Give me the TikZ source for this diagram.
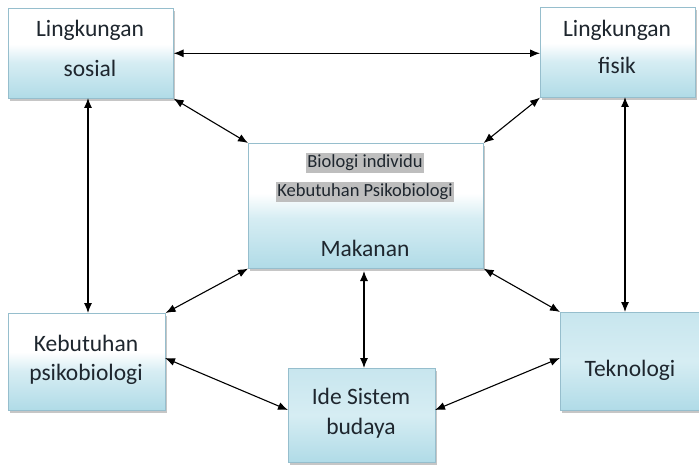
\documentclass[tikz,border=0pt]{standalone}
\usepackage{fontspec}
\setmainfont{Carlito}
\usetikzlibrary{arrows.meta,shadows}

\definecolor{boxblue}{RGB}{176,219,231}
\definecolor{boxmid}{RGB}{214,237,243}
\definecolor{boxedge}{RGB}{150,190,205}
\definecolor{textdark}{RGB}{30,38,46}
\definecolor{hilite}{RGB}{190,190,190}

% white upper part fading into light blue towards the bottom
\pgfdeclareverticalshading{panelfade}{100bp}{%
  color(0bp)=(boxblue); color(25bp)=(boxblue); color(45bp)=(boxmid);
  color(55bp)=(white); color(100bp)=(white)}
% mostly blue panel with a pale band
\pgfdeclareverticalshading{panelblue}{100bp}{%
  color(0bp)=(boxblue); color(25bp)=(boxblue); color(50bp)=(boxmid);
  color(75bp)=(boxblue!70); color(100bp)=(boxblue!70)}

\tikzset{
  panel/.style={draw=boxedge, line width=0.6pt, shading=panelfade,
    anchor=north west, inner sep=0pt,
    drop shadow={shadow xshift=2pt, shadow yshift=-3pt, opacity=0.45, fill=gray}},
  bluepanel/.style={panel, shading=panelblue},
  lbl/.style={text=textdark, font=\fontsize{23.5}{26}\selectfont, inner sep=0pt},
  small/.style={text=textdark, fill=hilite, font=\fontsize{18.5}{21}\selectfont,
    inner xsep=1pt, inner ysep=2pt},
  link/.style={{Latex[length=10pt,width=8pt]}-{Latex[length=10pt,width=8pt]},
    line width=1.1pt, black}
}

\begin{document}
\begin{tikzpicture}[x=1pt,y=-1pt]
\useasboundingbox (0,0) rectangle (699,465);

% panels
\node[panel, minimum width=165pt, minimum height=90pt] (ls) at (8,8) {};
\node[panel, minimum width=155pt, minimum height=90pt] (lf) at (540,7) {};
\node[panel, minimum width=235pt, minimum height=125pt] (c) at (248,143) {};
\node[panel, minimum width=157pt, minimum height=97pt] (kp) at (8,313) {};
\node[bluepanel, minimum width=147pt, minimum height=94pt] (ide) at (288,368) {};
\node[bluepanel, minimum width=139pt, minimum height=98pt] (tek) at (560,312) {};

% panel texts
\node[lbl] (lsa) at (90,30) {Lingkungan};
\node[lbl] (lsb) at (90,68) {sosial};
\node[lbl] (lfa) at (617,30) {Lingkungan};
\node[lbl] (lfb) at (617,65) {fisik};
\node[small] (ca) at (365,163) {Biologi individu};
\node[small] (cb) at (365,192) {Kebutuhan Psikobiologi};
\node[lbl] (cc) at (365,248) {Makanan};
\node[lbl] (kpa) at (86,343) {Kebutuhan};
\node[lbl] (kpb) at (86,374) {psikobiologi};
\node[lbl] (idea) at (361,396) {Ide Sistem};
\node[lbl] (ideb) at (361,428) {budaya};
\node[lbl] (teka) at (630,370) {Teknologi};

% connectors
\coordinate (lsd) at (88,98);
\coordinate (kpu) at (88,313);
\coordinate (lfd) at (625,97);
\coordinate (teku) at (625,312);
\coordinate (cd) at (364,271);
\coordinate (ideu) at (364,368);
\coordinate (kpr) at (165,358);
\coordinate (idel) at (288,410);
\coordinate (ider) at (435,410);
\coordinate (tekl) at (560,358);

\draw[link] (ls.east) -- (ls.east -| lf.west);
\draw[link] (ls.south east) -- (c.north west);
\draw[link] (lf.south west) -- (c.north east);
\draw[link] (lsd) -- (kpu);
\draw[link] (lfd) -- (teku);
\draw[link] (c.south west) -- (kp.north east);
\draw[link] (c.south east) -- (tek.north west);
\draw[link] (cd) -- (ideu);
\draw[link] (kpr) -- (idel);
\draw[link] (ider) -- (tekl);
\end{tikzpicture}
\end{document}
